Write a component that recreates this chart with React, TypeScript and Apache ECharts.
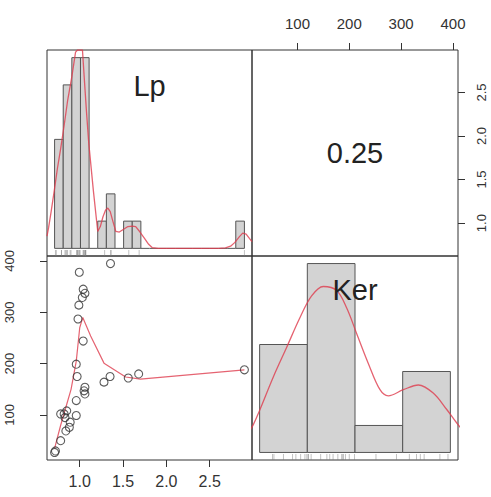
import React, { useEffect, useRef } from "react";
import * as echarts from "echarts";

// ---- data ----
const lpValues = [0.71, 0.72, 0.78, 0.78, 0.82, 0.83, 0.84, 0.85, 0.88, 0.89, 0.96, 0.96, 0.97, 0.96, 0.98, 0.99, 0.995, 1.03, 1.04, 1.06, 1.04, 1.06, 1.05, 1.06, 1.28, 1.35, 1.355, 1.56, 1.68, 2.9];
const kerValues = [27, 30, 50, 102, 102, 95, 69, 108, 76, 86, 99, 128, 175, 199, 287, 314, 378, 329, 345, 337, 244, 154, 147, 141, 164, 175, 395, 172, 180, 188];

const lpBreaks = [0.7, 0.8, 0.9, 1.0, 1.1, 1.2, 1.3, 1.4, 1.5, 1.6, 1.7, 1.8, 1.9, 2.0, 2.1, 2.2, 2.3, 2.4, 2.5, 2.6, 2.7, 2.8, 2.9];
const lpCounts = [4, 6, 7, 7, 0, 1, 2, 0, 1, 1, 0, 0, 0, 0, 0, 0, 0, 0, 0, 0, 0, 1];

const kerBreaks = [0, 100, 200, 300, 400];
const kerCounts = [8, 14, 2, 6];

// density curves (x, height in count units); the Lp peak leaves the panel at its top edge
const lpDensX = [0.612, 0.63, 0.66, 0.695, 0.733, 0.771, 0.81, 0.85, 0.9, 0.943, 0.966, 1.023, 1.045, 1.07, 1.095, 1.15, 1.2, 1.23, 1.26, 1.29, 1.317, 1.345, 1.375, 1.41, 1.45, 1.5, 1.55, 1.6, 1.64, 1.69, 1.74, 1.79, 1.83, 1.9, 2.6, 2.68, 2.74, 2.79, 2.84, 2.88, 2.92, 2.96, 2.988];
const lpDensY = [0.45, 0.75, 1.35, 2.09, 2.94, 3.67, 4.5, 5.4, 6.3, 7.2, 7.28, 7.28, 6.2, 5.0, 3.9, 2.1, 0.62, 0.8, 1.15, 1.4, 1.48, 1.35, 1.0, 0.62, 0.6, 0.7, 0.8, 0.82, 0.8, 0.6, 0.38, 0.15, 0.03, 0, 0, 0.02, 0.08, 0.22, 0.42, 0.56, 0.52, 0.36, 0.25];

const kerDensX = [-30, -13, 28.7, 56.8, 84.7, 109, 133.5, 161.6, 182.6, 203.6, 227.9, 252.4, 269.8, 301.3, 332.8, 364, 392, 413, 430];
const kerDensY = [1.2, 2.08, 5.6, 7.8, 10.0, 11.6, 12.3, 12.0, 10.7, 8.8, 6.6, 4.65, 4.2, 4.65, 5.0, 4.4, 3.2, 2.2, 1.5];

// smoothing line in the scatter panel
const smoothX = [0.71, 0.78, 0.84, 0.9, 0.96, 1.0, 1.035, 1.126, 1.28, 1.53, 1.7, 2.9];
const smoothY = [35, 80, 115, 150, 205, 270, 290, 254, 201, 174, 170, 188];

const lpTicks = [1.0, 1.5, 2.0, 2.5];
const kerTicks = [100, 200, 300, 400];

const corrText = "0.25";
const varNames = ["Lp", "Ker"];

const FONT = "'Liberation Sans', Arial, sans-serif";
const RED = "rgba(222,60,78,0.8)";

export default function App() {
  const ref = useRef<HTMLDivElement>(null);

  useEffect(() => {
    if (!ref.current) return;
    const chart = echarts.init(ref.current, undefined, { renderer: "svg" });

    const lpMin = 0.6224, lpMax = 2.9876;
    const kerMin = 12.3, kerMax = 409.7;

    const histRender = (params: any, api: any) => {
      const x0 = api.value(0), x1 = api.value(1), c = api.value(2);
      const p0 = api.coord([x0, 0]);
      const p1 = api.coord([x1, c]);
      if (c === 0) {
        return {
          type: "line",
          shape: { x1: p0[0], y1: p0[1], x2: p1[0], y2: p0[1] },
          style: { stroke: "#555", lineWidth: 1 },
        };
      }
      return {
        type: "rect",
        shape: { x: p0[0], y: p1[1], width: p1[0] - p0[0], height: p0[1] - p1[1] },
        style: { fill: "#d3d3d3", stroke: "#555", lineWidth: 1 },
      };
    };

    const rugRender = (yMinVal: number) => (params: any, api: any) => {
      const p = api.coord([api.value(0), yMinVal]);
      return {
        type: "line",
        shape: { x1: p[0], y1: p[1], x2: p[0], y2: p[1] - 6 },
        style: { stroke: "rgba(120,120,120,0.45)", lineWidth: 1 },
      };
    };

    const tickLabelStyle = { color: "#333", fontSize: 14, fontFamily: FONT };
    const axisTick = (vals: number[]) => ({
      show: true, length: 7, customValues: vals, lineStyle: { color: "#333", width: 1 },
    });

    const option: any = {
      animation: false,
      grid: [
        { left: 47, top: 50, width: 205, height: 206 },
        { left: 252, top: 50, width: 206, height: 206 },
        { left: 47, top: 256, width: 205, height: 204 },
        { left: 252, top: 256, width: 206, height: 204 },
      ].map((g) => ({
        ...g, show: true, borderColor: "#333", borderWidth: 1, backgroundColor: "transparent",
        containLabel: false, outerBoundsMode: "none",
      })),
      xAxis: [
        { gridIndex: 0, type: "value", min: 0.612, max: 2.988, show: false },
        {
          gridIndex: 1, type: "value", min: kerMin, max: kerMax, position: "top",
          axisLine: { show: false }, splitLine: { show: false },
          axisTick: axisTick(kerTicks),
          axisLabel: { ...tickLabelStyle, fontSize: 15, margin: 19, customValues: kerTicks, formatter: (v: number) => String(v) },
        },
        {
          gridIndex: 2, type: "value", min: lpMin, max: lpMax, position: "bottom",
          axisLine: { show: false }, splitLine: { show: false },
          axisTick: axisTick(lpTicks),
          axisLabel: { ...tickLabelStyle, fontSize: 16, margin: 13, customValues: lpTicks, formatter: (v: number) => v.toFixed(1) },
        },
        { gridIndex: 3, type: "value", min: -16, max: 416, show: false },
      ],
      yAxis: [
        { gridIndex: 0, type: "value", min: -0.28, max: 7.28, show: false },
        {
          gridIndex: 1, type: "value", min: lpMin, max: lpMax, position: "right",
          axisLine: { show: false }, splitLine: { show: false },
          axisTick: axisTick(lpTicks),
          axisLabel: { ...tickLabelStyle, fontSize: 13, rotate: 90, margin: 17, customValues: lpTicks, formatter: (v: number) => v.toFixed(1) },
        },
        {
          gridIndex: 2, type: "value", min: kerMin, max: kerMax, position: "left",
          axisLine: { show: false }, splitLine: { show: false },
          axisTick: axisTick(kerTicks),
          axisLabel: { ...tickLabelStyle, fontSize: 13, rotate: 90, margin: 31, customValues: kerTicks, formatter: (v: number) => String(v) },
        },
        { gridIndex: 3, type: "value", min: -0.56, max: 14.56, show: false },
      ],
      series: [
        {
          type: "custom", xAxisIndex: 0, yAxisIndex: 0,
          data: lpCounts.map((c, i) => [lpBreaks[i], lpBreaks[i + 1], c]),
          encode: { x: [0, 1], y: 2 },
          renderItem: histRender,
          z: 2,
        },
        {
          type: "custom", xAxisIndex: 0, yAxisIndex: 0,
          data: lpValues.map((v) => [v]),
          encode: { x: 0 },
          renderItem: rugRender(-0.28),
          z: 2,
        },
        {
          type: "line", xAxisIndex: 0, yAxisIndex: 0, clip: true,
          data: lpDensX.map((x, i) => [x, lpDensY[i]]),
          showSymbol: false, smooth: false,
          lineStyle: { color: RED, width: 1.3 },
          z: 3,
        },
        {
          type: "scatter", xAxisIndex: 1, yAxisIndex: 1, data: [],
        },
        {
          type: "scatter", xAxisIndex: 2, yAxisIndex: 2,
          data: lpValues.map((x, i) => [x, kerValues[i]]),
          symbol: "circle", symbolSize: 8,
          itemStyle: { color: "rgba(255,255,255,0)", borderColor: "#333", borderWidth: 1.1 },
          z: 3,
        },
        {
          type: "line", xAxisIndex: 2, yAxisIndex: 2, clip: true,
          data: smoothX.map((x, i) => [x, smoothY[i]]),
          showSymbol: false,
          lineStyle: { color: RED, width: 1.2 },
          z: 2,
        },
        {
          type: "custom", xAxisIndex: 3, yAxisIndex: 3,
          data: kerCounts.map((c, i) => [kerBreaks[i], kerBreaks[i + 1], c]),
          encode: { x: [0, 1], y: 2 },
          renderItem: histRender,
          z: 2,
        },
        {
          type: "custom", xAxisIndex: 3, yAxisIndex: 3,
          data: kerValues.map((v) => [v]),
          encode: { x: 0 },
          renderItem: rugRender(-0.56),
          z: 2,
        },
        {
          type: "line", xAxisIndex: 3, yAxisIndex: 3, clip: true,
          data: kerDensX.map((x, i) => [x, kerDensY[i]]),
          showSymbol: false, smooth: 0.35,
          lineStyle: { color: RED, width: 1.3 },
          z: 3,
        },
      ],
      graphic: [
        {
          type: "text", x: 149.5, y: 86, z: 10,
          style: { text: varNames[0], font: `29px ${FONT}`, fill: "#222", align: "center", verticalAlign: "middle" },
        },
        {
          type: "text", x: 355, y: 290, z: 10,
          style: { text: varNames[1], font: `29px ${FONT}`, fill: "#222", align: "center", verticalAlign: "middle" },
        },
        {
          type: "text", x: 355, y: 153, z: 10,
          style: { text: corrText, font: `29px ${FONT}`, fill: "#222", align: "center", verticalAlign: "middle" },
        },
      ],
    };

    chart.setOption(option);
    return () => chart.dispose();
  }, []);

  return (
    <div
      ref={ref}
      style={{ position: "fixed", left: 0, top: 0, width: 491, height: 497, background: "#fff" }}
    />
  );
}
